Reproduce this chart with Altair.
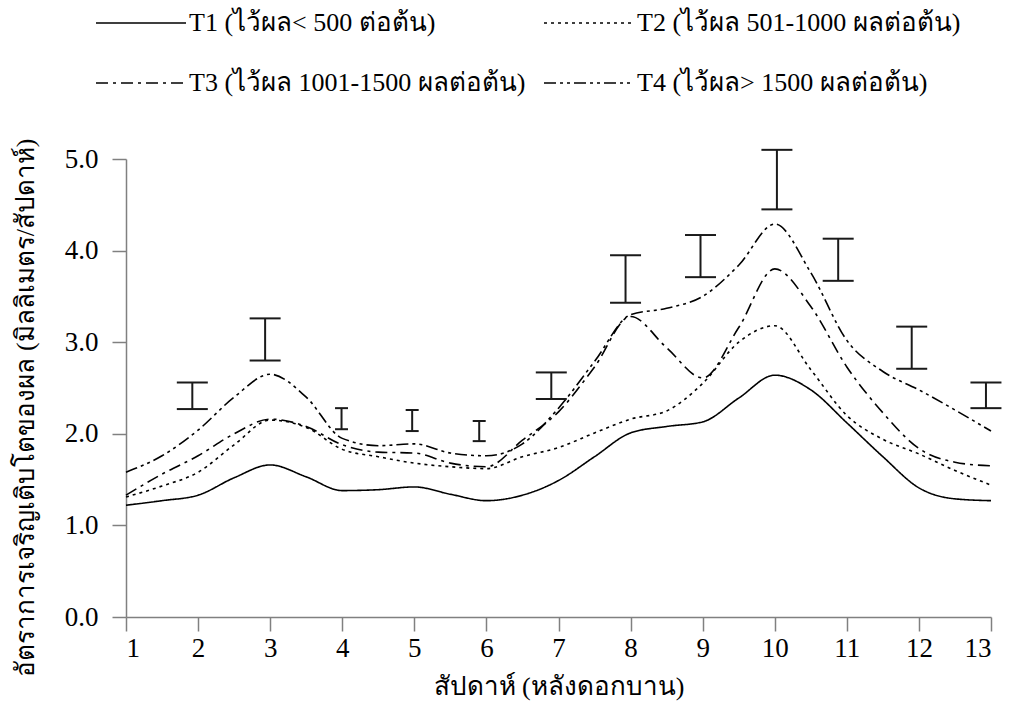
import altair as alt
import pandas as pd

# ---- data ----
weeks = [1, 1.5, 2, 2.5, 3, 3.5, 4, 4.5, 5, 5.5, 6, 6.5, 7, 7.5, 8, 8.5, 9,
         9.5, 10, 10.5, 11, 11.5, 12, 12.5, 13]

t1 = [1.22, 1.27, 1.33, 1.52, 1.66, 1.53, 1.38, 1.39, 1.42, 1.34, 1.27, 1.33, 1.49,
      1.75, 2.01, 2.08, 2.13, 2.39, 2.64, 2.48, 2.12, 1.75, 1.41, 1.29, 1.27]
t2 = [1.31, 1.43, 1.58, 1.88, 2.15, 2.07, 1.83, 1.75, 1.68, 1.64, 1.62, 1.75, 1.85,
      2.01, 2.16, 2.25, 2.55, 3.00, 3.18, 2.70, 2.20, 1.94, 1.78, 1.60, 1.44]
t3 = [1.33, 1.56, 1.76, 2.00, 2.16, 2.08, 1.88, 1.80, 1.79, 1.68, 1.64, 1.93, 2.24,
      2.73, 3.28, 2.94, 2.61, 3.16, 3.80, 3.39, 2.73, 2.23, 1.84, 1.69, 1.65]
t4 = [1.58, 1.76, 2.04, 2.40, 2.65, 2.40, 1.95, 1.87, 1.89, 1.79, 1.76, 1.89, 2.28,
      2.79, 3.30, 3.37, 3.50, 3.84, 4.29, 3.76, 3.02, 2.68, 2.48, 2.26, 2.03]

series_names = ["T1 (ไว้ผล< 500 ต่อต้น)", "T2 (ไว้ผล 501-1000 ผลต่อต้น)",
                "T3 (ไว้ผล 1001-1500 ผลต่อต้น)", "T4 (ไว้ผล> 1500 ผลต่อต้น)"]

err_x = [1.92, 2.93, 3.99, 4.97, 5.90, 6.90, 7.93, 8.97, 10.03, 10.88, 11.90, 12.93]
err_lo = [2.27, 2.80, 2.05, 2.03, 1.92, 2.38, 3.43, 3.71, 4.45, 3.67, 2.71, 2.28]
err_hi = [2.56, 3.26, 2.28, 2.26, 2.14, 2.67, 3.95, 4.17, 5.10, 4.13, 3.17, 2.56]

x_ticks = list(range(1, 14))
y_ticks = [0, 1, 2, 3, 4, 5]

x_title = "สัปดาห์ (หลังดอกบาน)"
y_title = "อัตราการเจริญเติบโตของผล (มิลลิเมตร/สัปดาห์)"

# ---- tables ----
rows = []
for name, vals in zip(series_names, [t1, t2, t3, t4]):
    for w, v in zip(weeks, vals):
        rows.append({"week": w, "value": v, "series": name})
df = pd.DataFrame(rows)
err_df = pd.DataFrame({"week": err_x, "lo": err_lo, "hi": err_hi})

FONT = "Liberation Serif"
dashes = [[1, 0], [3, 4], [12, 5, 3, 5], [12, 4, 3, 4, 3, 4]]

x_axis = alt.Axis(values=x_ticks, format="d", title=x_title,
                  labelPadding=4, titlePadding=12)
y_axis = alt.Axis(values=y_ticks, format=".1f", title=y_title,
                  labelPadding=14, titlePadding=26, titleY=248)
x_scale = alt.Scale(domain=[1, 13], nice=False, zero=False)
y_scale = alt.Scale(domain=[0, 5], nice=False)

lines = alt.Chart(df).mark_line(
    interpolate="monotone", stroke="black", strokeWidth=1.6
).encode(
    x=alt.X("week:Q", scale=x_scale, axis=x_axis),
    y=alt.Y("value:Q", scale=y_scale, axis=y_axis),
    strokeDash=alt.StrokeDash(
        "series:N",
        scale=alt.Scale(domain=series_names, range=dashes),
        sort=series_names,
        legend=alt.Legend(
            title=None, orient="none", legendX=-31, legendY=-182,
            columns=2, direction="horizontal",
            symbolType="stroke", symbolSize=8100, symbolStrokeWidth=1.6,
            symbolStrokeColor="black",
            labelFont=FONT, labelFontSize=26, labelColor="black",
            labelLimit=600, labelOffset=2, columnPadding=14, rowPadding=1,
        ),
    ),
)

stems = alt.Chart(err_df).mark_rule(stroke="#1a1a1a", strokeWidth=2).encode(
    x=alt.X("week:Q", scale=x_scale, axis=x_axis),
    y=alt.Y("lo:Q", scale=y_scale, axis=y_axis),
    y2="hi:Q",
)


def caps(field, wide):
    flt = (alt.datum.hi - alt.datum.lo >= 0.25) if wide else (alt.datum.hi - alt.datum.lo < 0.25)
    return alt.Chart(err_df).transform_filter(flt).mark_tick(
        orient="horizontal", size=31 if wide else 13, thickness=2, color="#1a1a1a", opacity=1
    ).encode(
        x=alt.X("week:Q", scale=x_scale, axis=x_axis),
        y=alt.Y(f"{field}:Q", scale=y_scale, axis=y_axis),
    )


chart = alt.layer(
    lines, stems,
    caps("lo", True), caps("hi", True), caps("lo", False), caps("hi", False),
).properties(
    width=865, height=458,
    padding={"left": 126, "top": 159, "right": 24, "bottom": 109},
    autosize=alt.AutoSizeParams(type="none"),
    background="white",
).configure_axis(
    labelFont=FONT, labelFontSize=27, labelColor="black",
    titleFont=FONT, titleFontSize=26, titleFontWeight="normal", titleColor="black",
    domainColor="#808080", tickColor="#808080", domainWidth=1.5, tickWidth=1.5,
    tickSize=14, grid=False,
).configure_view(stroke=None)

chart.save("out.html", embed_options={"renderer": "svg", "actions": False})
